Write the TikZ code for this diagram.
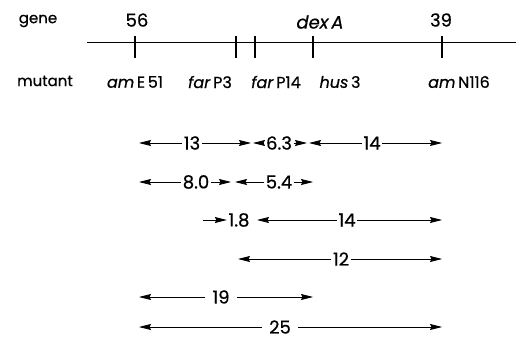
\documentclass[tikz,border=0pt]{standalone}
\usepackage{fontspec}
\setmainfont{Poppins}[FakeBold=0.6]
\usetikzlibrary{positioning,arrows.meta}

\begin{document}
\begin{tikzpicture}[
    x=1pt, y=-1pt,
    lbl/.style={font=\fontsize{15}{17}\selectfont, inner sep=0pt},
    locus/.style={font=\fontsize{18}{20}\selectfont, inner sep=0pt},
    dist/.style={font=\fontsize{18}{20}\selectfont, inner sep=1.5pt},
    tick/.style={line width=1.2pt},
    >={Stealth[length=12pt,width=6pt,inset=1.5pt]}
]
\useasboundingbox (0,0) rectangle (516,342);

% genetic map
\node[lbl] (gene) at (38,21) {gene};
\node[lbl] (mutant) at (45,81) {mutant};
\coordinate (start) at (87,43);
\coordinate (stop) at (516,43);
\draw[line width=1pt] (start) -- (stop);
\foreach \name/\x in {t56/135, tP3/236, tP14/255, tdex/313, t39/442}
    \draw[tick] (\x,36) -- (\x,58) coordinate (\name);

\node[locus] (g56) at (137,20) {56};
\node[locus] (gdex) at (320,22) {\itshape dex\,A};
\node[locus] (g39) at (441,20) {39};

\node[lbl, font=\fontsize{16}{18}\selectfont] (mE51) at (135,82) {\textit{am}\,E\,51};
\node[lbl, font=\fontsize{16}{18}\selectfont] (mP3) at (210,82) {\textit{far}\,P3};
\node[lbl, font=\fontsize{16}{18}\selectfont] (mP14) at (276,82) {\textit{far}\,P14};
\node[lbl, font=\fontsize{16}{18}\selectfont] (mhus) at (340,82) {\textit{hus}\,3};
\node[lbl, font=\fontsize{16}{18}\selectfont] (mN116) at (459,82) {\textit{am}\,N116};

% distances
\foreach \name/\l/\r/\y/\m/\txt/\sep in {
    d13/139/251/143/192/13/1.5,
    d63/253/307/143/279/6.3/1.5,
    d14a/309/442/143/372/14/1.5,
    d80/139/231/182/196/8.0/1.5,
    d54/235/313/182/279/5.4/1.5,
    d14b/257/442/220/347/14/1.5,
    d12/238/442/259/341/12/1.5,
    d19/139/313/297/221/19/7,
    d25/139/442/327/280/25/7}
{
    \coordinate (\name-l) at (\l,\y);
    \coordinate (\name-r) at (\r,\y);
    \node[dist, inner xsep=\sep pt] (\name) at (\m,\y) {\txt};
    \draw[->, line width=0.8pt] (\name) -- (\name-l);
    \draw[->, line width=0.8pt] (\name) -- (\name-r);
}

\node[dist] (d18) at (239,220) {1.8};
\coordinate (d18-l) at (203,220);
\draw[->, line width=0.8pt] (d18-l) -- (d18.west);
\end{tikzpicture}
\end{document}
